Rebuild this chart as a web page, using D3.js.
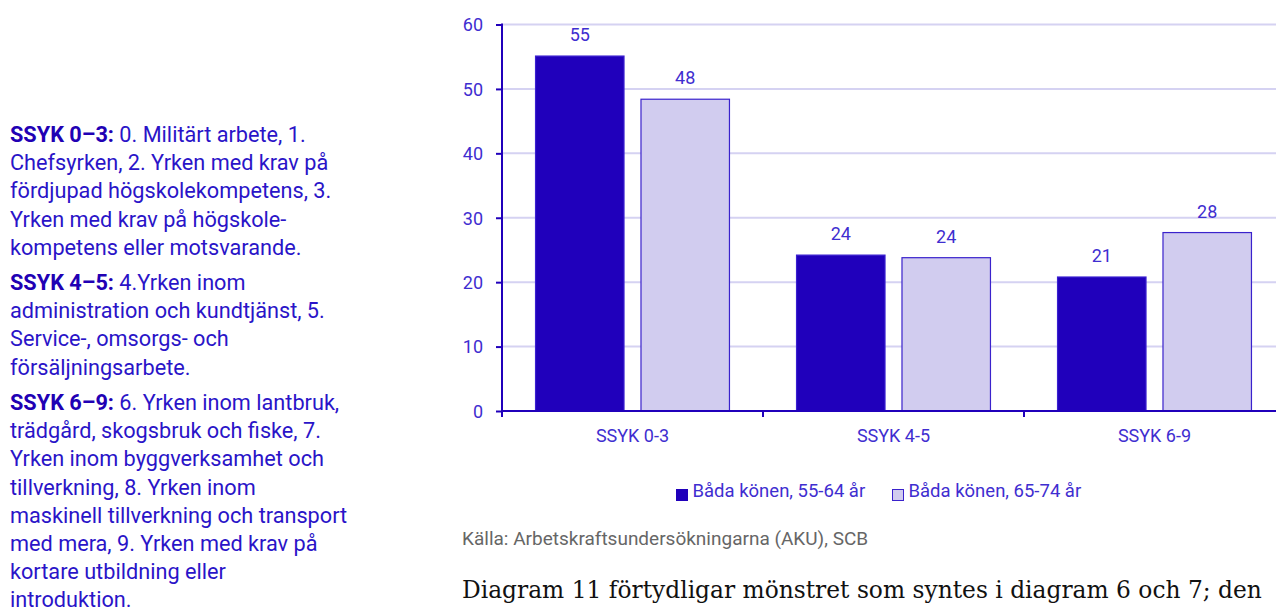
<!DOCTYPE html>
<html lang="sv">
<head>
<meta charset="UTF-8">
<title>SSYK 55-64 / 65-74 år</title>
<script src="https://d3js.org/d3.v7.min.js"></script>
<style>
    body { margin: 0; background: #fff; overflow: hidden; }
    svg { display: block; }
    .side { font: 21.7px Roboto, sans-serif; fill: #2a14c8; }
    .side .b { font-weight: bold; fill: #2100b4; }
    .chart text { font-family: Roboto, sans-serif; fill: #3f2ed0; }
</style>
</head>
<body>
<div id="chart"></div>
<script>
    // data
    var categories = ["SSYK 0-3", "SSYK 4-5", "SSYK 6-9"];
    var seriesNames = ["Båda könen, 55-64 år", "Båda könen, 65-74 år"];
    var values5564 = [55.1, 24.2, 20.8];
    var values6574 = [48.4, 23.8, 27.7];
    var yTicks = [0, 10, 20, 30, 40, 50, 60];

    var sideText = [
        {head: "SSYK 0–3:", lines: [" 0. Militärt arbete, 1.", "Chefsyrken, 2. Yrken med krav på", "fördjupad högskolekompetens, 3.", "Yrken med krav på högskole-", "kompetens eller motsvarande."]},
        {head: "SSYK 4–5:", lines: [" 4.Yrken inom", "administration och kundtjänst, 5.", "Service-, omsorgs- och", "försäljningsarbete."]},
        {head: "SSYK 6–9:", lines: [" 6. Yrken inom lantbruk,", "trädgård, skogsbruk och fiske, 7.", "Yrken inom byggverksamhet och", "tillverkning, 8. Yrken inom", "maskinell tillverkning och transport", "med mera, 9. Yrken med krav på", "kortare utbildning eller", "introduktion."]}
    ];
    var source = "Källa: Arbetskraftsundersökningarna (AKU), SCB";
    var bodyText = "Diagram 11 förtydligar mönstret som syntes i diagram 6 och 7; den";

    var width = 1276, height = 607;
    var dark = "#2000bb", light = "#d1ccef", edge = "#3a22cc";

    var svg = d3.select("#chart").append("svg")
        .attr("width", width)
        .attr("height", height);

    // left column text
    var paraTop = [142, 290, 410];
    var lineH = 28.2;
    var side = svg.append("g").attr("class", "side");
    sideText.forEach(function(p, i) {
        p.lines.forEach(function(line, j) {
            var t = side.append("text")
                .attr("x", 10)
                .attr("y", paraTop[i] + j * lineH);
            if (j === 0) t.append("tspan").attr("class", "b").text(p.head);
            t.append("tspan").text(line);
        });
    });

    // chart
    var x0 = 502, yBottom = 411, yTop = 24.5;
    var g = svg.append("g").attr("class", "chart");

    var x = d3.scaleBand()
        .domain(categories)
        .range([x0, x0 + 3 * 261]);

    var x1 = d3.scaleBand()
        .domain([0, 1])
        .range([0, x.bandwidth()])
        .paddingInner(0.161)
        .paddingOuter(0.318);

    var y = d3.scaleLinear()
        .domain([0, 60])
        .range([yBottom, yTop]);

    // grid
    g.append("g")
        .selectAll("line")
        .data(yTicks.slice(1))
        .enter().append("line")
            .attr("x1", x0)
            .attr("x2", width)
            .attr("y1", d => y(d))
            .attr("y2", d => y(d))
            .attr("stroke", "#d5d2f2")
            .attr("stroke-width", 2);

    // bars
    var data = categories.map((c, i) => ({cat: c, vals: [values5564[i], values6574[i]]}));
    var groups = g.append("g")
        .selectAll("g")
        .data(data)
        .enter().append("g")
            .attr("transform", d => "translate(" + x(d.cat) + ",0)");

    groups.selectAll("rect")
        .data(d => d.vals.map((v, k) => ({k: k, v: v})))
        .enter().append("rect")
            .attr("x", d => x1(d.k))
            .attr("y", d => y(d.v))
            .attr("width", x1.bandwidth())
            .attr("height", d => y(0) - y(d.v))
            .attr("fill", d => d.k === 0 ? dark : light)
            .attr("stroke", d => d.k === 0 ? "#3a1fd0" : edge)
            .attr("stroke-width", 1.2);

    groups.selectAll("text")
        .data(d => d.vals.map((v, k) => ({k: k, v: v})))
        .enter().append("text")
            .attr("x", d => x1(d.k) + x1.bandwidth() / 2)
            .attr("y", d => y(d.v) - 15)
            .attr("text-anchor", "middle")
            .style("font-size", "18px")
            .text(d => Math.round(d.v));

    // y axis
    var yAxis = g.append("g")
        .attr("transform", "translate(" + x0 + ",0)")
        .call(d3.axisLeft(y).tickValues(yTicks).tickSize(6).tickPadding(13));
    yAxis.select(".domain").remove();
    yAxis.selectAll(".tick line").attr("stroke", dark).attr("stroke-width", 2);
    yAxis.selectAll(".tick text")
        .style("font-size", "18px")
        .attr("fill", "#3f2ed0")
        .attr("dy", "0.35em");
    g.append("line")
        .attr("x1", x0).attr("x2", x0)
        .attr("y1", y(60) - 1).attr("y2", yBottom + 6)
        .attr("stroke", dark).attr("stroke-width", 2);

    // x axis
    g.append("line")
        .attr("x1", x0).attr("x2", width)
        .attr("y1", yBottom).attr("y2", yBottom)
        .attr("stroke", dark).attr("stroke-width", 2);
    g.append("g")
        .selectAll("line")
        .data(categories)
        .enter().append("line")
            .attr("x1", d => x(d)).attr("x2", d => x(d))
            .attr("y1", yBottom).attr("y2", yBottom + 6)
            .attr("stroke", dark).attr("stroke-width", 2);
    g.append("g")
        .selectAll("text")
        .data(categories)
        .enter().append("text")
            .attr("x", d => x(d) + x.bandwidth() / 2)
            .attr("y", 442)
            .attr("text-anchor", "middle")
            .style("font-size", "18px")
            .text(d => d);

    // legend
    var legX = [676, 892];
    var leg = g.append("g")
        .selectAll("g")
        .data(seriesNames)
        .enter().append("g")
            .attr("transform", (d, i) => "translate(" + legX[i] + ",489)");
    leg.append("rect")
        .attr("x", 0.5).attr("y", 0.5)
        .attr("width", 11).attr("height", 11)
        .attr("fill", (d, i) => i === 0 ? dark : light)
        .attr("stroke", (d, i) => i === 0 ? dark : edge)
        .attr("stroke-width", 1);
    leg.append("text")
        .attr("x", 16.5)
        .attr("y", 8)
        .style("font-size", "18.5px")
        .text(d => d);

    // source and body text
    svg.append("text")
        .attr("x", 462)
        .attr("y", 545)
        .style("font", "19px Roboto, sans-serif")
        .attr("fill", "#666")
        .text(source);

    var body = svg.append("text")
        .attr("x", 462)
        .attr("y", 598)
        .style("font", "24px 'DejaVu Serif', serif")
        .attr("fill", "#111")
        .text(bodyText);
    // fit the body line to the width it takes in the page
    var bw = body.node().getComputedTextLength();
    body.style("font-size", (24 * 800 / bw).toFixed(2) + "px");
</script>
</body>
</html>
